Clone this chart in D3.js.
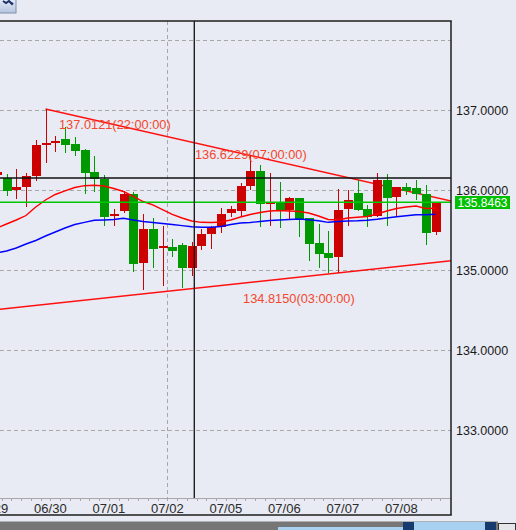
<!DOCTYPE html>
<html><head><meta charset="utf-8">
<script src="https://cdn.jsdelivr.net/npm/d3@7"></script>
<style>html,body{margin:0;padding:0;background:#e8ebf3;overflow:hidden}svg{display:block}</style>
</head><body>
<svg id="chart" width="516" height="530"></svg>
<script>
// ---------- data ----------
const candleIndex = d3.range(0, 46);
const opens  = [136.191,136.146,136.004,136.041,136.175,136.563,136.588,136.638,136.575,136.500,136.225,136.141,135.679,135.741,135.950,135.088,135.513,135.281,135.291,135.313,135.029,135.304,135.450,135.538,135.709,135.741,136.054,136.241,135.844,135.854,135.750,135.904,135.654,135.338,135.216,135.166,135.759,135.959,135.763,135.675,136.125,135.916,136.038,136.025,135.946,135.479];
const highs  = [136.250,136.200,136.259,136.213,136.625,137.0121,136.675,136.784,136.659,136.509,136.425,136.188,135.759,135.991,135.979,135.700,135.646,135.550,135.388,135.341,135.354,135.513,135.550,135.771,135.800,136.084,136.4375,136.3125,136.2125,136.104,135.916,135.904,135.654,135.575,135.488,136.009,136.000,136.125,135.813,136.2125,136.200,136.038,136.091,136.125,136.063,135.854];
const lows   = [136.175,135.925,135.888,135.791,136.116,136.341,136.479,136.459,136.429,135.954,135.979,135.550,135.550,135.709,134.979,134.750,135.029,134.800,135.166,134.771,134.929,135.250,135.263,135.466,135.659,135.659,136.000,135.541,135.550,135.529,135.638,135.416,135.116,135.021,134.959,134.959,135.550,135.738,135.541,135.659,135.550,135.675,135.938,135.875,135.313,135.4375];
const closes = [136.225,135.991,136.038,136.175,136.563,136.591,136.616,136.563,136.491,136.216,136.141,135.666,135.700,135.950,135.075,135.513,135.263,135.294,135.241,135.019,135.300,135.450,135.538,135.700,135.763,136.050,136.241,135.825,135.856,135.738,135.904,135.638,135.325,135.204,135.154,135.750,135.875,135.750,135.659,136.125,135.904,136.038,135.991,135.946,135.466,135.8463];
const maShort = [135.525,135.575,135.625,135.681,135.788,135.875,135.944,135.988,136.031,136.054,136.060,136.050,136.019,135.981,135.919,135.856,135.813,135.756,135.694,135.650,135.613,135.596,135.594,135.600,135.625,135.663,135.694,135.719,135.738,135.744,135.738,135.731,135.713,135.675,135.631,135.625,135.650,135.659,135.669,135.700,135.738,135.769,135.788,135.800,135.769,135.771];
const maLong  = [135.2125,135.2375,135.275,135.325,135.369,135.425,135.475,135.525,135.569,135.596,135.621,135.625,135.631,135.646,135.625,135.606,135.594,135.581,135.569,135.554,135.541,135.534,135.534,135.544,135.569,135.588,135.594,135.606,135.619,135.625,135.631,135.638,135.629,135.616,135.596,135.606,135.613,135.615,135.621,135.634,135.650,135.666,135.679,135.691,135.691,135.696];
const priceTicks = [137, 136, 135, 134, 133];
const priceTickLabels = ["137.0000","136.0000","135.0000","134.0000","133.0000"];
const extraGridPrice = [137.875];
const dayLabels = ["06/29","06/30","07/01","07/02","07/05","07/06","07/07","07/08"];
const dayStartIndex = [-0.5, 5.5, 11.5, 17.5, 23.5, 29.5, 35.5, 41.5];
const gridDayIndex = [17.5];
const lastPrice = 135.8463;
const lastPriceLabel = "135.8463";
const crossIndex = 20.26, crossPrice = 136.15;
const topTrend = [[5, 137.0121], [46.6, 135.8625]];
const bottomTrend = [[0.33, 134.509], [46.6, 135.116]];
const annText  = ["137.0121(22:00:00)", "136.6229(07:00:00)", "134.8150(03:00:00)"];
const annIndex = [6.385, 20.33, 25.26];
const annPrice = [136.7625, 136.3875, 134.5875];

// ---------- layout ----------
const svg = d3.select("#chart");
const P = {l: 0, t: 21, r: 451, b: 498, frameB: 515};
const x = d3.scaleLinear().domain([1, 45]).range([6.5, 435.5]);
const y = d3.scaleLinear().domain([133, 137]).range([430, 110]);
const font = "'Liberation Sans', Arial, sans-serif";
const UP = "#cc0000", DOWN = "#009900";

svg.append("rect").attr("width", 516).attr("height", 530).attr("fill", "#e8ebf3");

const defs = svg.append("defs");
defs.append("clipPath").attr("id", "plotclip").append("rect")
  .attr("x", P.l).attr("y", P.t).attr("width", P.r - P.l).attr("height", P.b - P.t);
const btnGrad = defs.append("linearGradient").attr("id", "btng").attr("x1", 0).attr("y1", 0).attr("x2", 0).attr("y2", 1);
btnGrad.append("stop").attr("offset", 0).attr("stop-color", "#e4ecf7");
btnGrad.append("stop").attr("offset", 1).attr("stop-color", "#b4c4de");

const g = svg.append("g").attr("clip-path", "url(#plotclip)");

// horizontal grid
g.selectAll("line.hg").data(priceTicks.concat(extraGridPrice)).join("line")
  .attr("x1", P.l).attr("x2", P.r)
  .attr("y1", d => Math.round(y(d)) + 0.5).attr("y2", d => Math.round(y(d)) + 0.5)
  .attr("stroke", "#a8a8a8").attr("stroke-width", 1).attr("stroke-dasharray", "4,3");
// vertical grid
g.selectAll("line.vg").data(gridDayIndex).join("line")
  .attr("x1", d => Math.round(x(d)) + 0.5).attr("x2", d => Math.round(x(d)) + 0.5)
  .attr("y1", P.t).attr("y2", P.b)
  .attr("stroke", "#a8a8a8").attr("stroke-width", 1).attr("stroke-dasharray", "4,3");

// trend lines
const tl = d3.line().x(d => x(d[0])).y(d => y(d[1]));
[topTrend, bottomTrend].forEach(t => {
  g.append("path").attr("d", tl(t)).attr("fill", "none").attr("stroke", "#ff1010").attr("stroke-width", 1.4);
});

// candles
const cw = 9;
const cg = g.append("g").attr("shape-rendering", "crispEdges");
candleIndex.forEach(i => {
  const col = closes[i] >= opens[i] ? UP : DOWN;
  const cx = x(i);
  cg.append("line").attr("x1", Math.round(cx) + 0.5).attr("x2", Math.round(cx) + 0.5)
    .attr("y1", y(highs[i])).attr("y2", y(lows[i])).attr("stroke", col).attr("stroke-width", 1);
  const top = y(Math.max(opens[i], closes[i]));
  const bot = y(Math.min(opens[i], closes[i]));
  cg.append("rect").attr("x", Math.round(cx) - 4).attr("y", top)
    .attr("width", cw).attr("height", Math.max(2, bot - top)).attr("fill", col);
});

// moving averages
const ml = d3.line().x((d, i) => x(i)).y(d => y(d));
g.append("path").attr("d", ml(maShort)).attr("fill", "none").attr("stroke", "#ff0000").attr("stroke-width", 1.4);
g.append("path").attr("d", ml(maLong)).attr("fill", "none").attr("stroke", "#0000ff").attr("stroke-width", 1.4);

// current price line
g.append("line").attr("x1", P.l).attr("x2", P.r)
  .attr("y1", y(lastPrice)).attr("y2", y(lastPrice))
  .attr("stroke", "#00c800").attr("stroke-width", 1.4);

// crosshair
g.append("line").attr("x1", x(crossIndex)).attr("x2", x(crossIndex)).attr("y1", P.t).attr("y2", P.b)
  .attr("stroke", "#111").attr("stroke-width", 1.3);
g.append("line").attr("x1", P.l).attr("x2", P.r).attr("y1", y(crossPrice)).attr("y2", y(crossPrice))
  .attr("stroke", "#111").attr("stroke-width", 1.3);

// annotations
annText.forEach((t, k) => {
  g.append("text").attr("x", x(annIndex[k])).attr("y", y(annPrice[k]))
    .attr("font-family", font).attr("font-size", "12.8px").attr("fill", "#f4472e").text(t);
});

// x axis line + ticks
svg.append("line").attr("x1", P.l).attr("x2", P.r).attr("y1", P.b + 0.5).attr("y2", P.b + 0.5)
  .attr("stroke", "#a8a8a8").attr("stroke-width", 1);
const tickIdx = d3.range(-1, 46).map(i => i + 0.5);
svg.append("g").attr("shape-rendering", "crispEdges").selectAll("line").data(tickIdx).join("line")
  .attr("x1", d => Math.round(x(d)) + 0.5).attr("x2", d => Math.round(x(d)) + 0.5)
  .attr("y1", P.b).attr("y2", P.b + 3)
  .attr("stroke", "#a8a8a8").attr("stroke-width", 1);
svg.append("g").selectAll("text").data(dayLabels).join("text")
  .attr("x", (d, k) => x(dayStartIndex[k])).attr("y", 513)
  .attr("text-anchor", "middle").attr("font-family", font).attr("font-size", "13px")
  .attr("fill", "#2a2a2a").text(d => d);

// price axis labels
svg.append("g").selectAll("text").data(priceTicks).join("text")
  .attr("x", 456).attr("y", d => y(d) + 4.5)
  .attr("font-family", font).attr("font-size", "12.5px").attr("fill", "#1a1a1a")
  .text((d, k) => priceTickLabels[k]);

// current price label
svg.append("rect").attr("x", 455).attr("y", Math.round(y(lastPrice)) - 6).attr("width", 55).attr("height", 13)
  .attr("fill", "#00c000");
svg.append("text").attr("x", 482.5).attr("y", Math.round(y(lastPrice)) + 4.5)
  .attr("text-anchor", "middle").attr("font-family", font).attr("font-size", "12px")
  .attr("fill", "#ffffff").text(lastPriceLabel);

// frame
const fr = svg.append("g").attr("stroke", "#1e1e1e").attr("stroke-width", 1.5).attr("fill", "none");
fr.append("line").attr("x1", 0).attr("x2", P.r + 0.75).attr("y1", P.t).attr("y2", P.t);
fr.append("line").attr("x1", P.r).attr("x2", P.r).attr("y1", P.t).attr("y2", P.frameB);
fr.append("line").attr("x1", 0).attr("x2", P.r + 0.75).attr("y1", P.frameB).attr("y2", P.frameB);

// top-left tool button
svg.append("rect").attr("x", -1).attr("y", -1).attr("width", 17).attr("height", 14)
  .attr("fill", "url(#btng)").attr("stroke", "#7f8fae").attr("stroke-width", 1);
svg.append("path").attr("d", "M3,1 L6,3 L9,1 L12,4 L13,3").attr("fill", "none")
  .attr("stroke", "#1c2f6b").attr("stroke-width", 2);

// bottom navigator bar
svg.append("rect").attr("x", 0).attr("y", 521.5).attr("width", 498).attr("height", 9).attr("fill", "#767676");
svg.append("rect").attr("x", 278).attr("y", 527).attr("width", 125).attr("height", 4).attr("fill", "#a8d0f0");
svg.append("rect").attr("x", 403).attr("y", 522).attr("width", 93).attr("height", 8).attr("fill", "#a8d0f0");
svg.append("rect").attr("x", 403).attr("y", 522).attr("width", 11).attr("height", 8).attr("fill", "#173a6e");
svg.append("rect").attr("x", 485).attr("y", 522).attr("width", 11).attr("height", 8).attr("fill", "#173a6e");
svg.append("rect").attr("x", 498.5).attr("y", 523.5).attr("width", 17).attr("height", 8)
  .attr("fill", "#e4e6ea").attr("stroke", "#333").attr("stroke-width", 1);
</script>
</body></html>
